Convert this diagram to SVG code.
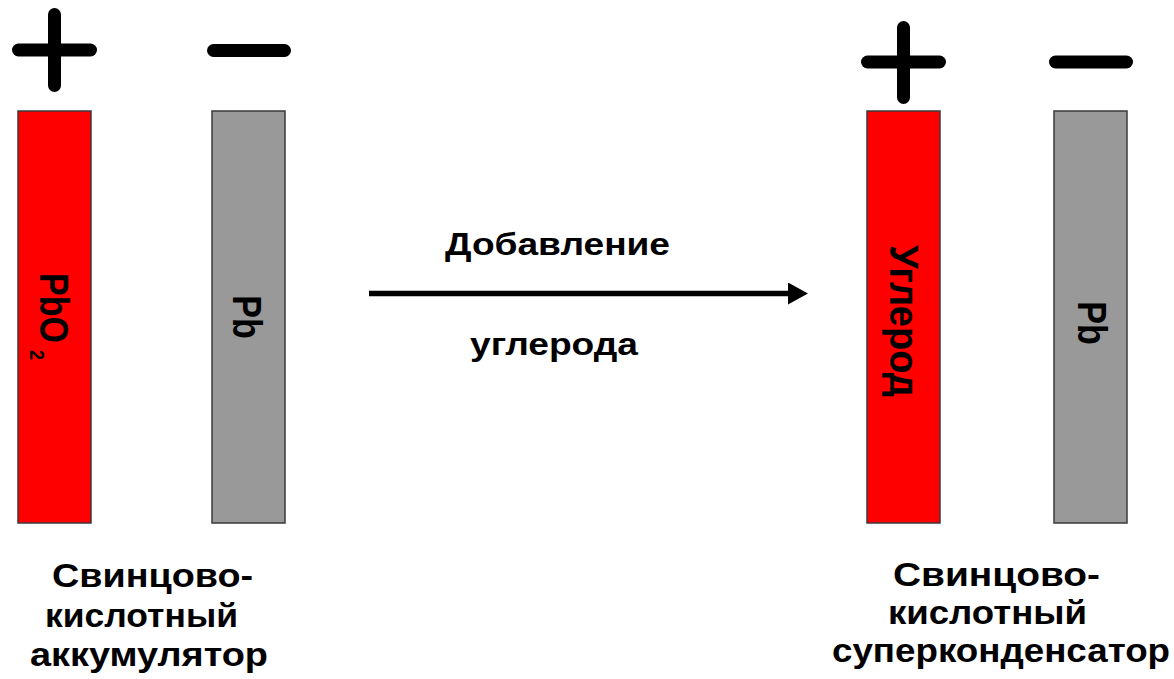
<svg xmlns="http://www.w3.org/2000/svg" width="1174" height="679" viewBox="0 0 1174 679">
  <style>
    .lbl { font-family: "Liberation Sans", Arial, sans-serif; font-weight: bold; fill: #000; }
    .cap { font-size: 33px; }
    .mid { font-size: 31px; }
    .vert { font-size: 34px; }
    .sign { stroke: #000; stroke-width: 13; stroke-linecap: round; fill: none; }
    .pos { fill: #FF0000; stroke: #3a3a3a; stroke-width: 1.5; }
    .neg { fill: #999999; stroke: #3a3a3a; stroke-width: 1.5; }
  </style>
  <defs>
    <marker id="head" viewBox="0 0 20 22" refX="0" refY="11" markerWidth="20" markerHeight="22" markerUnits="userSpaceOnUse" orient="auto">
      <path d="M0,0 L20,11 L0,22 Z" fill="#000"/>
    </marker>
  </defs>
  <rect width="1174" height="679" fill="#fff"/>

  <!-- lead-acid battery -->
  <g id="battery">
    <g id="battery-positive">
      <line class="sign" x1="18.5" y1="50" x2="90.5" y2="50"/>
      <line class="sign" x1="54.5" y1="14.5" x2="54.5" y2="85.5"/>
      <rect class="pos" x="18" y="111" width="73" height="412"/>
      <text class="lbl vert" transform="translate(40,273) rotate(90) scale(1,1.17)">PbO<tspan font-size="18" dx="7" dy="8.5">2</tspan></text>
    </g>
    <g id="battery-negative">
      <line class="sign" x1="213.5" y1="50.5" x2="284.5" y2="50.5"/>
      <rect class="neg" x="212" y="111" width="73" height="412"/>
      <text class="lbl vert" text-anchor="middle" transform="translate(233,317) rotate(90) scale(1,1.17)">Pb</text>
    </g>
    <text class="lbl cap" x="52" y="587" textLength="201" lengthAdjust="spacingAndGlyphs">Свинцово-</text>
    <text class="lbl cap" x="45" y="627" textLength="193" lengthAdjust="spacingAndGlyphs">кислотный</text>
    <text class="lbl cap" x="30" y="666" textLength="238" lengthAdjust="spacingAndGlyphs">аккумулятор</text>
  </g>

  <!-- transition -->
  <g id="connectors">
    <line x1="369" y1="293.5" x2="788" y2="293.5" stroke="#000" stroke-width="5.5" marker-end="url(#head)"/>
    <text class="lbl mid" x="445" y="255" textLength="225" lengthAdjust="spacingAndGlyphs">Добавление</text>
    <text class="lbl mid" x="470" y="355" textLength="168" lengthAdjust="spacingAndGlyphs">углерода</text>
  </g>

  <!-- lead-acid supercapacitor -->
  <g id="supercap">
    <g id="supercap-positive">
      <line class="sign" x1="867.5" y1="62" x2="939.5" y2="62"/>
      <line class="sign" x1="903.5" y1="27.5" x2="903.5" y2="97.5"/>
      <rect class="pos" x="867" y="111" width="73" height="412"/>
      <text class="lbl vert" text-anchor="middle" transform="translate(890,321) rotate(90) scale(1,1.17)" textLength="152" lengthAdjust="spacingAndGlyphs">Углерод</text>
    </g>
    <g id="supercap-negative">
      <line class="sign" x1="1055.5" y1="62" x2="1126.5" y2="62"/>
      <rect class="neg" x="1054" y="111" width="73" height="412"/>
      <text class="lbl vert" text-anchor="middle" transform="translate(1078,323) rotate(90) scale(1,1.17)">Pb</text>
    </g>
    <text class="lbl cap" x="893" y="586" textLength="207" lengthAdjust="spacingAndGlyphs">Свинцово-</text>
    <text class="lbl cap" x="888" y="624" textLength="199" lengthAdjust="spacingAndGlyphs">кислотный</text>
    <text class="lbl cap" x="832" y="662" textLength="338" lengthAdjust="spacingAndGlyphs">суперконденсатор</text>
  </g>
</svg>
